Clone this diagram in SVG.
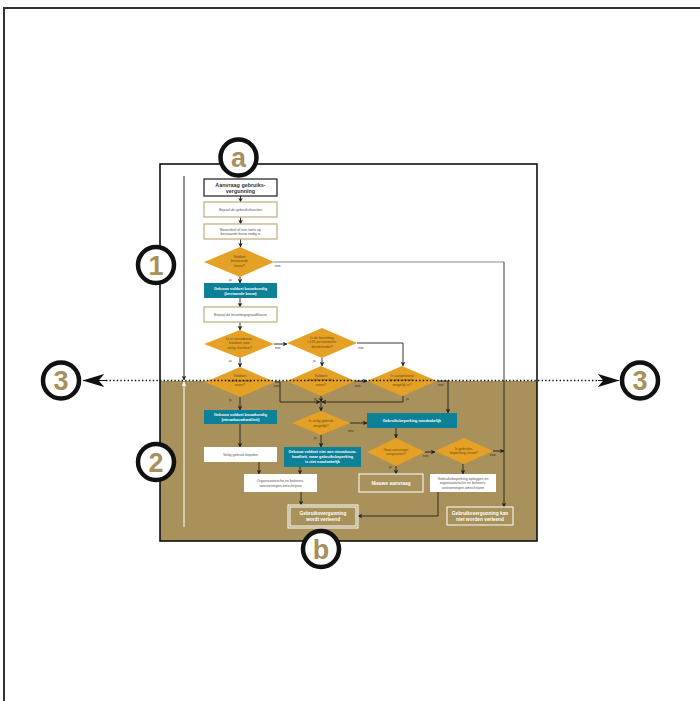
<svg xmlns="http://www.w3.org/2000/svg" width="700" height="701" viewBox="0 0 700 701">
  <defs>
    <style>
      text { font-family: "Liberation Sans", Arial, sans-serif; text-anchor: middle; }
      .box { fill: #ffffff; stroke: #c6b184; stroke-width: 1.3; }
      .boxk { fill: #ffffff; stroke: #1a1a1a; stroke-width: 1.2; }
      .boxw { fill: #ffffff; stroke: none; }
      .teal { fill: #0d8198; }
      .end { fill: none; stroke: #ffffff; stroke-width: 1; }
      .dia { fill: #e5a126; }
      .t { font-size: 3.6px; fill: #555555; }
      .tb { font-size: 5.4px; font-weight: bold; fill: #333333; }
      .tw { font-size: 3.8px; font-weight: bold; fill: #ffffff; }
      .te { font-size: 4.8px; font-weight: bold; fill: #ffffff; }
      .td { font-size: 3.6px; fill: #6b4a10; }
      .lab { font-size: 3.4px; fill: #444444; text-anchor: start; }
      .labw { font-size: 3.4px; fill: #3a2e18; text-anchor: start; }
      .c { fill: none; stroke: #222222; stroke-width: 0.9; }
      .badge circle { fill: #ffffff; stroke: #111111; stroke-width: 4.5; }
      .badge text { font-size: 27px; font-weight: bold; fill: #a8905a; }
    </style>
    <marker id="ah" viewBox="0 0 6 6" refX="5.5" refY="3" markerWidth="4.5" markerHeight="4.5" markerUnits="userSpaceOnUse" orient="auto">
      <path d="M0,0 L6,3 L0,6 L1.5,3 z" fill="#222222"/>
    </marker>
    <marker id="ahw" viewBox="0 0 6 6" refX="5.5" refY="3" markerWidth="5" markerHeight="5" markerUnits="userSpaceOnUse" orient="auto">
      <path d="M0,0 L6,3 L0,6 L1.5,3 z" fill="#ffffff"/>
    </marker>
    <marker id="big" viewBox="0 0 20 12" refX="19.5" refY="6" markerWidth="22" markerHeight="13" markerUnits="userSpaceOnUse" orient="auto">
      <path d="M0,0 L20,6 L0,12 L5,6 z" fill="#111111"/>
    </marker>
  </defs>

  <!-- outer frame -->
  <path d="M4,701 V8 H700" fill="none" stroke="#333333" stroke-width="2"/>

  <!-- main panel: white upper part, tan lower part -->
  <rect x="160" y="164" width="377" height="377" fill="#ffffff"/>
  <rect x="160" y="381" width="377" height="160" fill="#a8915a"/>
  <rect x="160" y="164" width="377" height="377" fill="none" stroke="#111111" stroke-width="1.6"/>

  <!-- process direction bar -->
  <line x1="184" y1="176" x2="184" y2="380" stroke="#222222" stroke-width="1" marker-end="url(#ah)"/>
  <line x1="184" y1="527" x2="184" y2="382" stroke="#ffffff" stroke-width="1" marker-end="url(#ahw)"/>

  <!-- connectors -->
  <g id="connectors">
    <line class="c" x1="240.5" y1="196" x2="240.5" y2="202" marker-end="url(#ah)"/>
    <line class="c" x1="240.5" y1="217" x2="240.5" y2="224" marker-end="url(#ah)"/>
    <line class="c" x1="240.5" y1="239" x2="240.5" y2="247" marker-end="url(#ah)"/>
    <line class="c" x1="240" y1="277" x2="240" y2="283" marker-end="url(#ah)"/>
    <line class="c" x1="240" y1="298" x2="240" y2="307" marker-end="url(#ah)"/>
    <line class="c" x1="240" y1="322" x2="240" y2="330" marker-end="url(#ah)"/>
    <!-- nee: bestaande bouw -->
    <path d="M274,262 H504" fill="none" stroke="#8a8a8a" stroke-width="1.1"/>
    <path class="c" d="M504,262 V507" marker-end="url(#ah)"/>
    <!-- nieuwbouw vluchten -> bezetting -->
    <line class="c" x1="274" y1="344" x2="287" y2="344" marker-end="url(#ah)"/>
    <path class="c" d="M357,343 H403 V366" marker-end="url(#ah)"/>
    <line class="c" x1="322" y1="358" x2="322" y2="366" marker-end="url(#ah)"/>
    <line class="c" x1="240" y1="358" x2="240" y2="367" marker-end="url(#ah)"/>
    <!-- bruikbaarheid row -->
    <line class="c" x1="355" y1="381" x2="367" y2="381" marker-end="url(#ah)"/>
    <path class="c" d="M275,382 H280 V402 H320" marker-end="url(#ah)"/>
    <path class="c" d="M403,396 V402 H322" marker-end="url(#ah)"/>
    <line class="c" x1="321" y1="396" x2="321" y2="402" marker-end="url(#ah)"/>
    <line class="c" x1="321" y1="402" x2="321" y2="411" marker-end="url(#ah)"/>
    <path class="c" d="M437,381 H448 V413" marker-end="url(#ah)"/>
    <line class="c" x1="240" y1="397" x2="240" y2="410" marker-end="url(#ah)"/>
    <line class="c" x1="240" y1="424" x2="240" y2="447" marker-end="url(#ah)"/>
    <!-- veilig gebruik -->
    <line class="c" x1="350" y1="423" x2="367" y2="423" marker-end="url(#ah)"/>
    <line class="c" x1="321" y1="435" x2="321" y2="447" marker-end="url(#ah)"/>
    <line class="c" x1="396" y1="428" x2="396" y2="438" marker-end="url(#ah)"/>
    <line class="c" x1="425" y1="452" x2="435" y2="452" marker-end="url(#ah)"/>
    <line class="c" x1="493" y1="451" x2="504" y2="451" marker-end="url(#ah)"/>
    <line class="c" x1="396" y1="466" x2="396" y2="474" marker-end="url(#ah)"/>
    <line class="c" x1="463" y1="464" x2="463" y2="474" marker-end="url(#ah)"/>
    <line class="c" x1="259" y1="462" x2="259" y2="474" marker-end="url(#ah)"/>
    <line class="c" x1="300" y1="467" x2="300" y2="474" marker-end="url(#ah)"/>
    <line class="c" x1="301" y1="492" x2="301" y2="505" marker-end="url(#ah)"/>
    <path class="c" d="M438,492 V516 H358" marker-end="url(#ah)"/>
  </g>

  <!-- labels ja / nee -->
  <g id="labels">
    <text class="lab" x="275" y="267">nee</text>
    <text class="lab" x="229" y="281">ja</text>
    <text class="lab" x="275" y="349">nee</text>
    <text class="lab" x="358" y="349">nee</text>
    <text class="lab" x="229" y="362">ja</text>
    <text class="lab" x="313" y="362">ja</text>
    <text class="labw" x="274" y="387">nee</text>
    <text class="labw" x="355" y="387">nee</text>
    <text class="labw" x="438" y="386">nee</text>
    <text class="labw" x="229" y="401">ja</text>
    <text class="labw" x="314" y="400">ja</text>
    <text class="labw" x="406" y="400">ja</text>
    <text class="labw" x="348" y="432">nee</text>
    <text class="labw" x="314" y="439">ja</text>
    <text class="labw" x="423" y="457">nee</text>
    <text class="labw" x="490" y="456">nee</text>
    <text class="labw" x="389" y="468">ja</text>
  </g>

  <!-- nodes -->
  <g id="aanvraag">
    <rect class="boxk" x="204" y="179" width="73" height="17"/>
    <text class="tb" x="240.5" y="186.5">Aanvraag gebruiks-</text>
    <text class="tb" x="240.5" y="192.5">vergunning</text>
  </g>
  <g id="gebruiksfuncties">
    <rect class="box" x="204" y="202" width="73" height="15"/>
    <text class="t" x="240.5" y="211">Bepaal de gebruiksfuncties</text>
  </g>
  <g id="toets-bestaande-bouw">
    <rect class="box" x="204" y="224" width="73" height="15"/>
    <text class="t" x="240.5" y="230.5">Beoordeel of een toets op</text>
    <text class="t" x="240.5" y="235">bestaande bouw nodig is</text>
  </g>
  <g id="voldoet-bestaande-bouw">
    <polygon class="dia" points="204,262 240,247 274,262 240,277"/>
    <text class="td" x="239.5" y="257.5">Voldoet</text>
    <text class="td" x="239.5" y="262">bestaande</text>
    <text class="td" x="239.5" y="266.5">bouw?</text>
  </g>
  <g id="voldoet-bestaand">
    <rect class="teal" x="204" y="283" width="73" height="15"/>
    <text class="tw" x="240.5" y="289.5">Gebouw voldoet bouwkundig</text>
    <text class="tw" x="240.5" y="294.5">(bestaande bouw)</text>
  </g>
  <g id="bezettingsgraad">
    <rect class="box" x="204" y="307" width="73" height="15"/>
    <text class="t" x="240.5" y="316">Bepaal de bezettingsgraadklasse</text>
  </g>
  <g id="nieuwbouw-vluchten">
    <polygon class="dia" points="204,344 240,330 274,344 240,358"/>
    <text class="td" x="239.5" y="339.5">Is er nieuwbouw-</text>
    <text class="td" x="239.5" y="344">kwaliteit voor</text>
    <text class="td" x="239.5" y="348.5">veilig vluchten?</text>
  </g>
  <g id="bezetting">
    <polygon class="dia" points="287,343 322,328 357,343 322,358"/>
    <text class="td" x="322" y="338.5">Is de bezetting</text>
    <text class="td" x="322" y="343">&lt;135 personen/m²</text>
    <text class="td" x="322" y="347.5">deurbreedte?</text>
  </g>
  <g id="bruikbaarheid-1">
    <polygon class="dia" points="205,382 240,367 275,382 240,397"/>
    <text class="td" x="240" y="377">Voldoen</text>
    <text class="td" x="240" y="381.5">bruikbaarheids-</text>
    <text class="td" x="240" y="386">eisen?</text>
  </g>
  <g id="bruikbaarheid-2">
    <polygon class="dia" points="287,381 321,366 355,381 321,396"/>
    <text class="td" x="321" y="376.5">Voldoen</text>
    <text class="td" x="321" y="381">bruikbaarheids-</text>
    <text class="td" x="321" y="385.5">eisen?</text>
  </g>
  <g id="aangetoond">
    <polygon class="dia" points="367,381 402,366 437,381 402,396"/>
    <text class="td" x="402" y="376.5">Is aangetoond</text>
    <text class="td" x="402" y="381">bruikbaarheids-</text>
    <text class="td" x="402" y="385.5">mogelijk is?</text>
  </g>
  <g id="voldoet-nieuwbouw">
    <rect class="teal" x="204" y="410" width="73" height="14"/>
    <text class="tw" x="240.5" y="416">Gebouw voldoet bouwkundig</text>
    <text class="tw" x="240.5" y="420.5">(nieuwbouwkwaliteit)</text>
  </g>
  <g id="veilig-gebruik">
    <polygon class="dia" points="292,423 321,411 350,423 321,435"/>
    <text class="td" x="321" y="422">Is veilig gebruik</text>
    <text class="td" x="321" y="426.5">mogelijk?</text>
  </g>
  <g id="beperking-noodzakelijk">
    <rect class="teal" x="367" y="413" width="90" height="15"/>
    <text class="tw" x="412" y="421.5">Gebruiksbeperking noodzakelijk</text>
  </g>
  <g id="veilig-gebruik-bepalen">
    <rect class="boxw" x="204" y="447" width="73" height="15"/>
    <text class="t" x="240.5" y="455.5">Veilig gebruik bepalen</text>
  </g>
  <g id="niet-noodzakelijk">
    <rect class="teal" x="284" y="447" width="77" height="20"/>
    <text class="tw" x="322.5" y="452.5">Gebouw voldoet niet aan nieuwbouw-</text>
    <text class="tw" x="322.5" y="457.5">kwaliteit, maar gebruiksbeperking</text>
    <text class="tw" x="322.5" y="462.5">is niet noodzakelijk</text>
  </g>
  <g id="aanvrager-aanpassen">
    <polygon class="dia" points="367,452 396,438 425,452 396,466"/>
    <text class="td" x="396" y="450.5">Gaat aanvrager</text>
    <text class="td" x="396" y="455">aanpassen?</text>
  </g>
  <g id="beperking-zinvol">
    <polygon class="dia" points="435,451 464,438 493,451 464,464"/>
    <text class="td" x="464" y="449.5">Is gebruiks-</text>
    <text class="td" x="464" y="454">beperking zinvol?</text>
  </g>
  <g id="organisatorisch">
    <rect class="boxw" x="244" y="474" width="73" height="18"/>
    <text class="t" x="280.5" y="481.5">Organisatorische en beheers-</text>
    <text class="t" x="280.5" y="486.5">voorzieningen omschrijven</text>
  </g>
  <g id="nieuwe-aanvraag">
    <rect class="end" x="359" y="474" width="64" height="18"/>
    <text class="te" x="391" y="484.5">Nieuwe aanvraag</text>
  </g>
  <g id="beperking-opleggen">
    <rect class="boxw" x="430" y="474" width="66" height="18"/>
    <text class="t" x="463" y="479.5">Gebruiksbeperking opleggen en</text>
    <text class="t" x="463" y="484">organisatorische en beheers-</text>
    <text class="t" x="463" y="488.5">voorzieningen omschrijven</text>
  </g>
  <g id="verleend">
    <rect class="end" x="288" y="505" width="70" height="23"/>
    <rect class="end" x="290" y="507" width="66" height="19"/>
    <text class="te" x="323" y="515">Gebruiksvergunning</text>
    <text class="te" x="323" y="521">wordt verleend</text>
  </g>
  <g id="niet-verleend">
    <rect class="end" x="447" y="507" width="66" height="18"/>
    <text class="te" x="480" y="515">Gebruiksvergunning kan</text>
    <text class="te" x="480" y="520.5">niet worden verleend</text>
  </g>

  <!-- boundary line with outward arrows -->
  <g id="boundary">
    <line x1="106" y1="380.5" x2="598" y2="380.5" stroke="#111111" stroke-width="1.6" stroke-dasharray="1.4,2.2"/>
    <line x1="106" y1="380.5" x2="83" y2="380.5" stroke="#111111" stroke-width="1" marker-end="url(#big)"/>
    <line x1="598" y1="380.5" x2="619" y2="380.5" stroke="#111111" stroke-width="1" marker-end="url(#big)"/>
  </g>

  <!-- badges -->
  <g id="badge-a" class="badge"><circle cx="238.5" cy="157.5" r="18"/><text x="238.5" y="167">a</text></g>
  <g id="badge-1" class="badge"><circle cx="156" cy="265" r="18"/><text x="156" y="274.5">1</text></g>
  <g id="badge-2" class="badge"><circle cx="156" cy="462" r="18"/><text x="156" y="471.5">2</text></g>
  <g id="badge-b" class="badge"><circle cx="321" cy="549" r="18"/><text x="321" y="558.5">b</text></g>
  <g id="badge-3l" class="badge"><circle cx="61" cy="380.5" r="18"/><text x="61" y="390">3</text></g>
  <g id="badge-3r" class="badge"><circle cx="640" cy="380.5" r="18"/><text x="640" y="390">3</text></g>
</svg>
